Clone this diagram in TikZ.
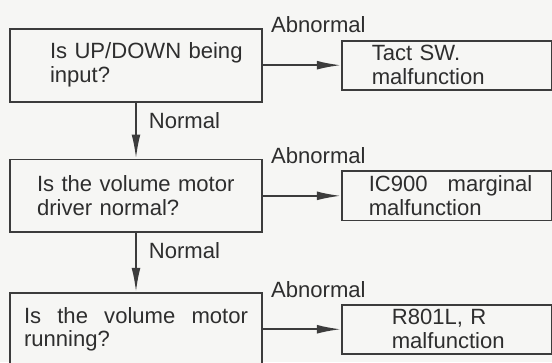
\documentclass[tikz,border=0pt]{standalone}
\usepackage{fontspec}
\setmainfont{Liberation Sans}
\usepackage{xcolor}
\definecolor{flowInk}{HTML}{2E2E2E}
\definecolor{flowLine}{HTML}{3C3C3C}
\definecolor{flowPaper}{HTML}{F6F6F4}
\usepackage{tikz}
\usetikzlibrary{arrows.meta,positioning}

\begin{document}
\begin{tikzpicture}[font=\fontsize{15.7pt}{17pt}\selectfont]
  \tikzset{
    checkbox/.style={
      draw=flowLine,
      fill=flowPaper,
      line width=1.3pt,
      text=flowInk,
      text width=5.9cm,
      inner xsep=0.2cm,
      minimum height=1.82cm,
      align=left,
      execute at begin node={\leftskip=#1\relax},
    },
    faultbox/.style={
      checkbox=#1,
      text width=4.85cm,
      minimum height=1.2cm,
    },
    flowarrow/.style={
      draw=flowLine,
      line width=1.3pt,
      -{Latex[length=6mm,width=2.2mm]},
    },
    flowlabel/.style={
      text=flowInk,
      inner sep=0pt,
    },
  }

  \path[use as bounding box,fill=flowPaper] (0,0) rectangle (13.8,9.05);

  \node[checkbox=0.8cm] (qInput) at (3.4,7.42) {Is UP/DOWN being\\input?};
  \node[checkbox=0.475cm,below=1.4cm of qInput] (qDriver)
    {Is the volume motor\\driver normal?};
  \node[checkbox=0.15cm,below=1.47cm of qDriver,
    execute at begin node={\rightskip=0.15cm\relax}] (qRunning)
    {Is\hfill the\hfill volume\hfill motor\\running?};

  \node[faultbox=0.55cm,right=1.95cm of qInput] (fTact) {Tact SW.\\malfunction};
  \node[faultbox=0.475cm,right=1.95cm of qDriver] (fDriver)
    {IC900\hspace{0.5cm}marginal\\malfunction};
  \node[faultbox=1.05cm,right=1.95cm of qRunning] (fResistor) {R801L, R\\malfunction};

  % Normal goes down, abnormal goes right.
  \draw[flowarrow] (qInput) -- node[flowlabel,right=0.3cm,pos=0.32] (nInput) {Normal} (qDriver);
  \draw[flowarrow] (qDriver) -- node[flowlabel,right=0.3cm,pos=0.3] (nDriver) {Normal} (qRunning);

  \draw[flowarrow] (qInput) -- (fTact);
  \draw[flowarrow] (qDriver) -- (fDriver);
  \draw[flowarrow] (qRunning) -- (fResistor);

  \node[flowlabel,anchor=west] (aInput) at ([shift={(0.2,0.075)}]qInput.north east) {Abnormal};
  \node[flowlabel,anchor=west] (aDriver) at ([shift={(0.2,0.075)}]qDriver.north east) {Abnormal};
  \node[flowlabel,anchor=west] (aRunning) at ([shift={(0.2,0.05)}]qRunning.north east) {Abnormal};
\end{tikzpicture}
\end{document}
